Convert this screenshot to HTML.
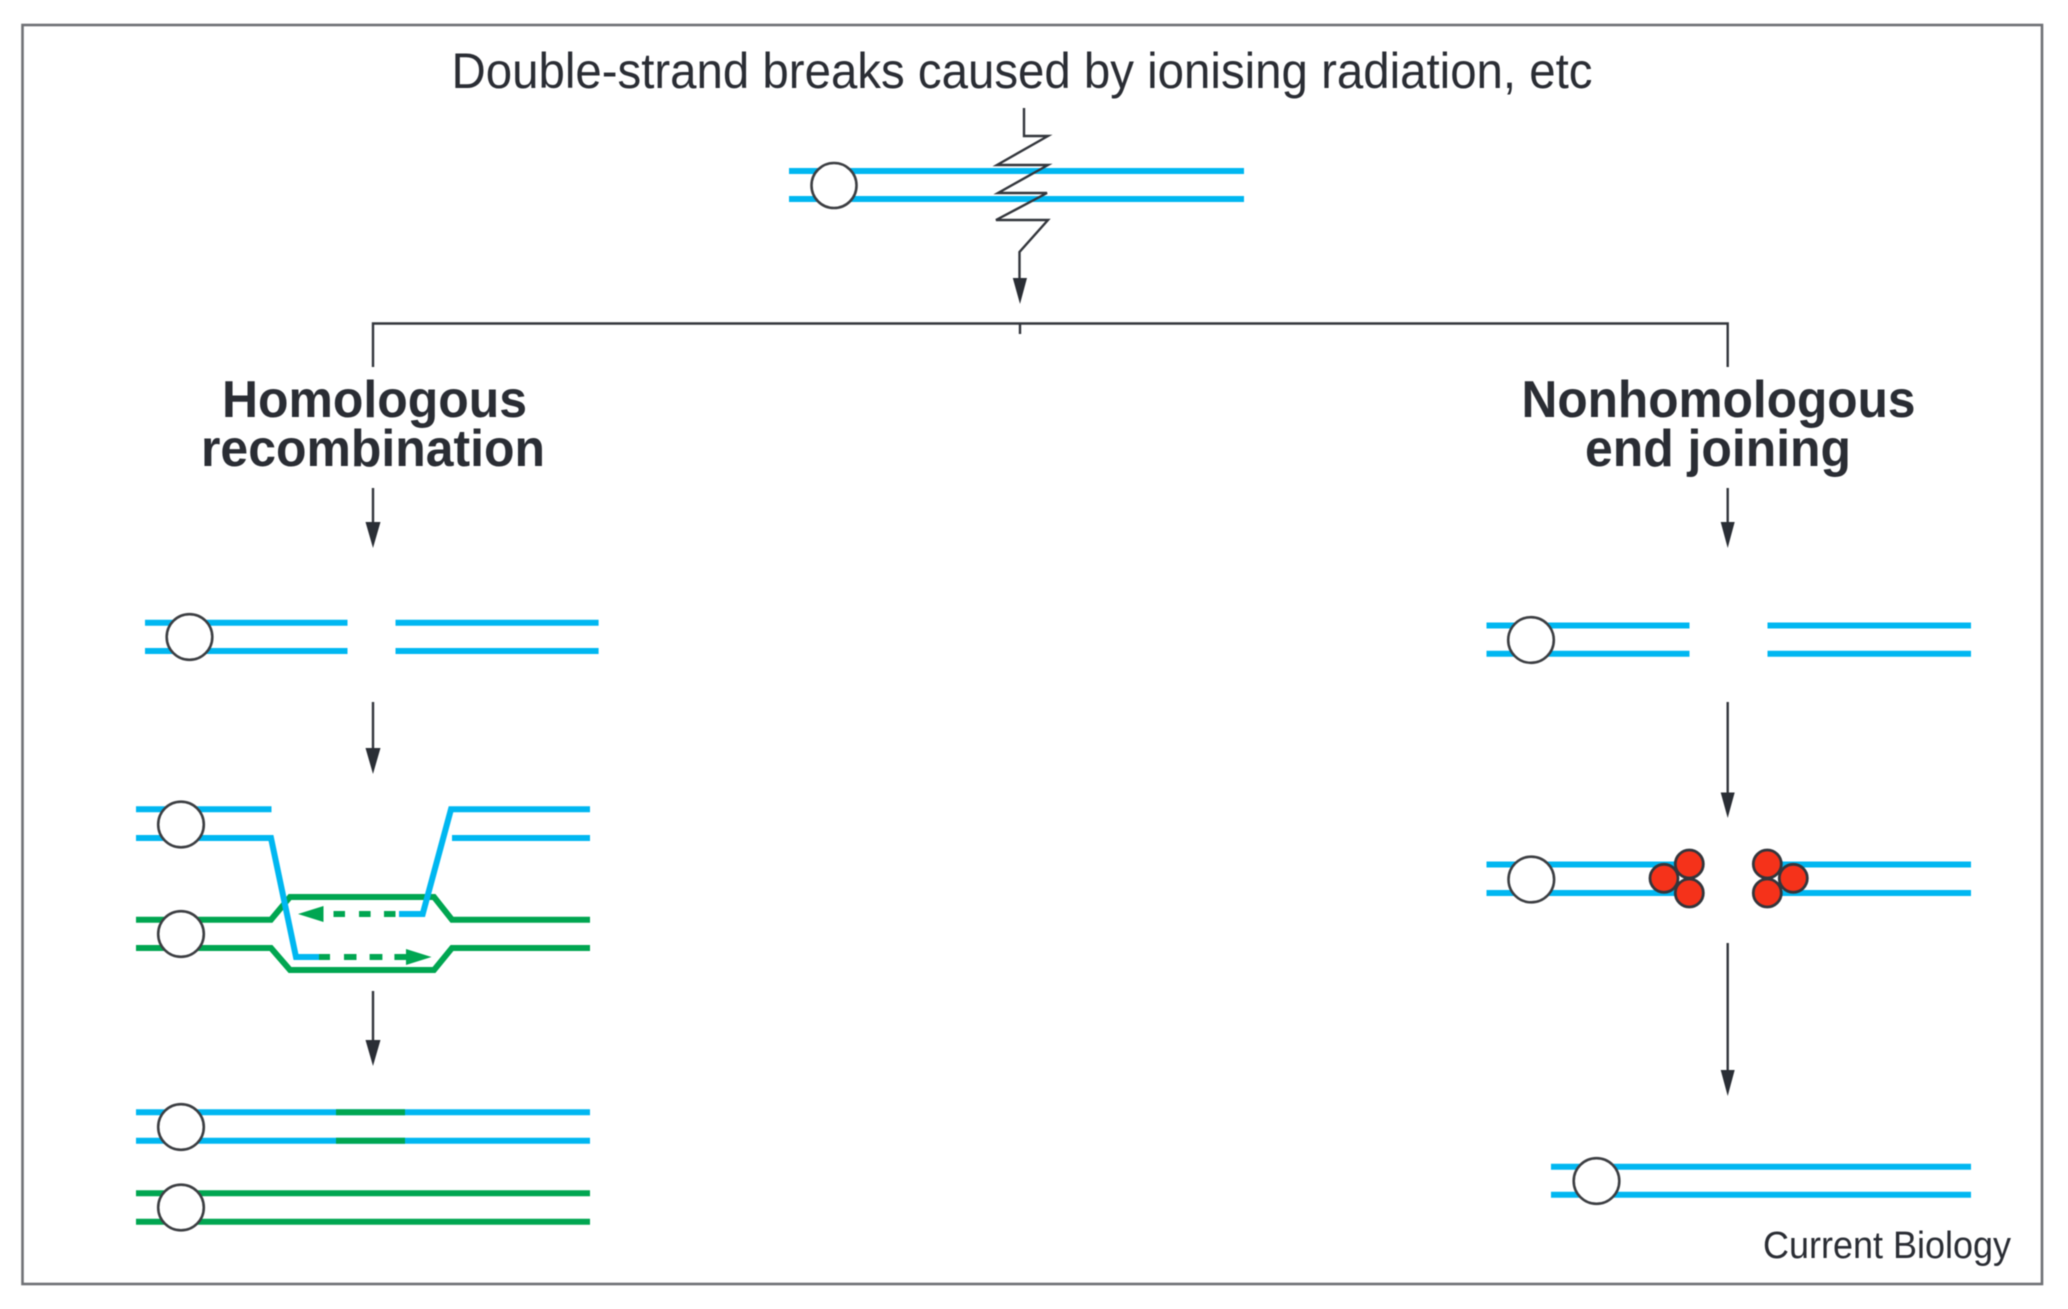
<!DOCTYPE html>
<html>
<head>
<meta charset="utf-8">
<title>Double-strand break repair</title>
<style>
html,body{margin:0;padding:0;background:#fff;width:2068px;height:1309px;overflow:hidden}
svg{display:block;filter:blur(0.4px)}
text{font-family:"Liberation Sans",sans-serif;fill:#2a2d34}
.b{stroke:#00b7f1;stroke-width:6;fill:none;stroke-linejoin:miter}
.g{stroke:#00a651;stroke-width:6;fill:none;stroke-linejoin:miter}
.k{stroke:#33363c;stroke-width:2.4;fill:none}
.c{fill:#fff;stroke:#3c3e42;stroke-width:2.6}
.r{fill:#f5321a;stroke:#33363c;stroke-width:2.8}
.t{font-weight:700;font-size:52px}
</style>
</head>
<body>
<svg width="2068" height="1309" viewBox="0 0 2068 1309" xmlns="http://www.w3.org/2000/svg">
<rect x="0" y="0" width="2068" height="1309" fill="#fff"/>
<rect x="22.5" y="25" width="2019.5" height="1259" fill="none" stroke="#6f7175" stroke-width="2.6"/>

<text x="451.500" y="88" font-size="50" textLength="1141" lengthAdjust="spacingAndGlyphs">Double-strand breaks caused by ionising radiation, etc</text>

<!-- top chromosome -->
<path class="b" d="M789 171H1244M789 199H1244"/>
<circle class="c" cx="834" cy="185.500" r="22.500"/>
<path class="k" d="M1024 108V136H1048L997 165H1048L998 193H1047L996 220H1048L1019.500 252V285"/>
<polygon points="1012.800,278 1027,278 1020,304" fill="#2a2e35"/>

<!-- split -->
<path class="k" d="M373 367V323.500H1727.700V367M1020 323V334"/>

<text class="t" x="222" y="417" textLength="305" lengthAdjust="spacingAndGlyphs">Homologous</text>
<text class="t" x="201" y="466" textLength="344" lengthAdjust="spacingAndGlyphs">recombination</text>
<text class="t" x="1521.500" y="417" textLength="394" lengthAdjust="spacingAndGlyphs">Nonhomologous</text>
<text class="t" x="1585" y="466" textLength="266" lengthAdjust="spacingAndGlyphs">end joining</text>

<!-- left arrows -->
<path class="k" d="M373 488V525M373 702V750M373 991V1042"/>
<polygon points="365.500,522 380.500,522 373,548" fill="#2a2e35"/>
<polygon points="365.500,748 380.500,748 373,774" fill="#2a2e35"/>
<polygon points="365.500,1040 380.500,1040 373,1066" fill="#2a2e35"/>

<!-- HR step 1 -->
<path class="b" d="M145 622.700H347.500M145 651H347.500M395.500 622.700H598.600M395.500 651H598.600"/>
<circle class="c" cx="189.500" cy="637" r="22.800"/>

<!-- HR step 2 -->
<path class="g" d="M136 919.700H271L290 897H434L452 919.700H590"/>
<path class="g" d="M136 948H271L290 970H434L452 948H590"/>
<path class="b" d="M136 809.300H271.500"/>
<path class="b" d="M136 838H271L296 957H319.500"/>
<path class="b" d="M590 809.300H451L422.700 914H399"/>
<path class="b" d="M452 838H590"/>
<path class="g" d="M319 957H330M344 957H356.500M369.600 957H382.400M394.400 957H406.500"/>
<polygon points="406,949 431.500,957 406,965" fill="#00a651"/>
<path class="g" d="M333.500 914H345M359 914H370.600M384 914H395.500"/>
<polygon points="323.500,906 298,914 323.500,922" fill="#00a651"/>
<circle class="c" cx="181" cy="824.500" r="22.800"/>
<circle class="c" cx="181" cy="934" r="22.800"/>

<!-- HR step 3 -->
<path class="b" d="M136 1112.300H590M136 1140.700H590"/>
<path class="g" d="M336 1112.300H405M336 1140.700H405"/>
<path class="g" d="M136 1193.300H590M136 1221.700H590"/>
<circle class="c" cx="181" cy="1127" r="22.800"/>
<circle class="c" cx="181" cy="1207.500" r="22.800"/>

<!-- right arrows -->
<path class="k" d="M1727.700 488V525M1727.700 702V795M1727.700 943V1072"/>
<polygon points="1720.700,522 1734.700,522 1727.700,548" fill="#2a2e35"/>
<polygon points="1720.700,792.500 1734.700,792.500 1727.700,818" fill="#2a2e35"/>
<polygon points="1720.700,1070 1734.700,1070 1727.700,1096" fill="#2a2e35"/>

<!-- NHEJ step 1 -->
<path class="b" d="M1486.500 625.500H1689.500M1486.500 653.700H1689.500M1767.500 625.500H1971M1767.500 653.700H1971"/>
<circle class="c" cx="1531" cy="640" r="22.800"/>

<!-- NHEJ step 2 -->
<path class="b" d="M1486.500 864.500H1680M1486.500 893H1680M1775 864.500H1971M1775 893H1971"/>
<circle class="c" cx="1531.300" cy="879.500" r="22.800"/>
<circle class="r" cx="1664" cy="878.300" r="14"/>
<circle class="r" cx="1689.300" cy="864" r="14"/>
<circle class="r" cx="1689.300" cy="893" r="14"/>
<circle class="r" cx="1793.300" cy="878.300" r="14"/>
<circle class="r" cx="1767.300" cy="864" r="14"/>
<circle class="r" cx="1767.300" cy="893" r="14"/>

<!-- NHEJ step 3 -->
<path class="b" d="M1551 1166.700H1971M1551 1194.700H1971"/>
<circle class="c" cx="1596.500" cy="1181" r="22.800"/>

<text x="1763" y="1258" font-size="38" textLength="248" lengthAdjust="spacingAndGlyphs">Current Biology</text>
</svg>
</body>
</html>
